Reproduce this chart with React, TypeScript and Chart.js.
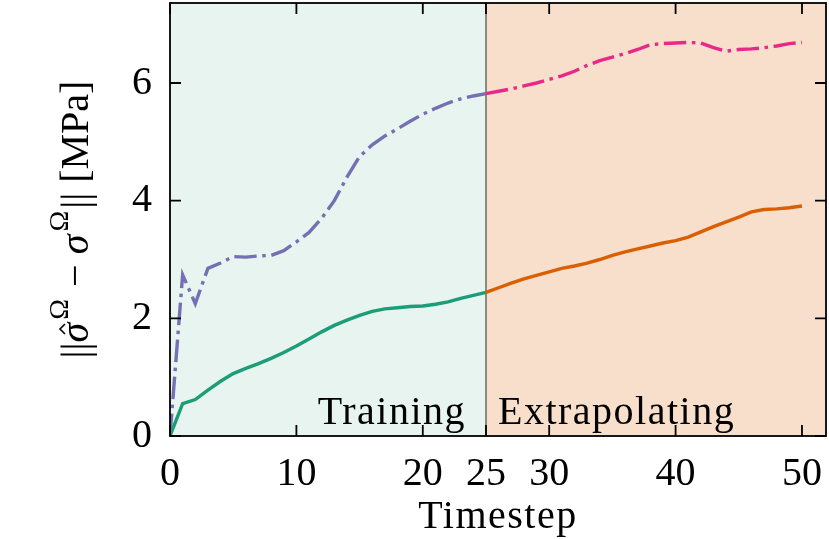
import React, { useEffect, useRef } from "react";
import { Chart, registerables } from "chart.js";

Chart.register(...registerables);

const FONT = '"Liberation Serif", "Times New Roman", serif';

// Timesteps
const trainSteps = [0, 1, 2, 3, 4, 5, 6, 7, 8, 9, 10, 11, 12, 13, 14, 15, 16, 17, 18, 19, 20, 21, 22, 23, 24, 25];
const extrapSteps = [25, 26, 27, 28, 29, 30, 31, 32, 33, 34, 35, 36, 37, 38, 39, 40, 41, 42, 43, 44, 45, 46, 47, 48, 49, 50];

// Training (green solid)
const trainSolid = [0, 0.55, 0.62, 0.78, 0.93, 1.06, 1.15, 1.23, 1.32, 1.42, 1.53, 1.65, 1.77, 1.88, 1.97, 2.05, 2.12, 2.16, 2.18, 2.2, 2.21, 2.24, 2.28, 2.34, 2.39, 2.44];
// Training (purple dash-dot)
const trainDashdot = [0, 2.74, 2.25, 2.85, 2.94, 3.05, 3.04, 3.06, 3.07, 3.15, 3.3, 3.46, 3.7, 4.0, 4.4, 4.75, 4.95, 5.1, 5.22, 5.35, 5.47, 5.57, 5.66, 5.73, 5.78, 5.82];
// Extrapolating (orange solid)
const extrapSolid = [2.44, 2.52, 2.6, 2.67, 2.73, 2.79, 2.85, 2.89, 2.94, 3.0, 3.07, 3.13, 3.18, 3.23, 3.28, 3.32, 3.38, 3.47, 3.56, 3.64, 3.72, 3.81, 3.85, 3.86, 3.88, 3.91];
// Extrapolating (pink dash-dot)
const extrapDashdot = [5.82, 5.86, 5.9, 5.95, 6.0, 6.06, 6.12, 6.2, 6.3, 6.38, 6.44, 6.5, 6.57, 6.65, 6.67, 6.68, 6.69, 6.68, 6.6, 6.54, 6.57, 6.58, 6.6, 6.63, 6.67, 6.69];

const xTickValues = [0, 10, 20, 25, 30, 40, 50];
const yTickValues = [0, 2, 4, 6];
const splitStep = 25;
const regionLabels = ["Training", "Extrapolating"];
const xTitle = "Timestep";

const regionPlugin = {
  id: "regions",
  beforeDatasetsDraw(chart: any) {
    const { ctx, chartArea: a, scales } = chart;
    const xm = scales.x.getPixelForValue(splitStep);
    ctx.save();
    ctx.fillStyle = "rgb(232,244,240)";
    ctx.fillRect(a.left, a.top, xm - a.left, a.bottom - a.top);
    ctx.fillStyle = "rgb(248,223,204)";
    ctx.fillRect(xm, a.top, a.right - xm, a.bottom - a.top);
    ctx.strokeStyle = "#4a4a3a";
    ctx.lineWidth = 1.2;
    ctx.beginPath();
    ctx.moveTo(xm, a.top);
    ctx.lineTo(xm, a.bottom);
    ctx.stroke();
    ctx.font = `40px ${FONT}`;
    ctx.fillStyle = "#000";
    ctx.textBaseline = "alphabetic";
    (ctx as any).letterSpacing = "1.5px";
    ctx.textAlign = "right";
    ctx.fillText(regionLabels[0], xm - 20, a.bottom - 12);
    ctx.textAlign = "left";
    ctx.fillText(regionLabels[1], xm + 12, a.bottom - 12);
    ctx.restore();
  },
  afterDraw(chart: any) {
    const { ctx, chartArea: a, scales } = chart;
    const { x, y } = scales;
    ctx.save();
    ctx.strokeStyle = "#000";
    ctx.lineWidth = 1.8;
    ctx.strokeRect(a.left, a.top, a.right - a.left, a.bottom - a.top);
    const L = 11;
    ctx.beginPath();
    xTickValues.forEach((v) => {
      const px = x.getPixelForValue(v);
      ctx.moveTo(px, a.bottom);
      ctx.lineTo(px, a.bottom - L);
      ctx.moveTo(px, a.top);
      ctx.lineTo(px, a.top + L);
    });
    yTickValues.forEach((v) => {
      const py = y.getPixelForValue(v);
      ctx.moveTo(a.left, py);
      ctx.lineTo(a.left + L, py);
      ctx.moveTo(a.right, py);
      ctx.lineTo(a.right - L, py);
    });
    ctx.stroke();

    // x-axis title
    ctx.save();
    ctx.font = `40px ${FONT}`;
    (ctx as any).letterSpacing = "1.5px";
    ctx.fillStyle = "#000";
    ctx.textAlign = "center";
    ctx.textBaseline = "alphabetic";
    ctx.fillText(xTitle, (a.left + a.right) / 2, 528);
    ctx.restore();

    // y-axis title with superscripts
    const main = `40px ${FONT}`;
    const ital = `italic 40px ${FONT}`;
    const sup = `28px ${FONT}`;
    const parts = [
      { t: "||", f: main, dy: 0, hat: false },
      { t: "\u03c3", f: ital, dy: 0, hat: true },
      { t: "\u03a9", f: sup, dy: -20, hat: false },
      { t: " \u2212 ", f: main, dy: 0, hat: false },
      { t: "\u03c3", f: ital, dy: 0, hat: false },
      { t: "\u03a9", f: sup, dy: -20, hat: false },
      { t: "||", f: main, dy: 0, hat: false },
      { t: " [MPa]", f: main, dy: 0, hat: false },
    ];
    let total = 0;
    const widths = parts.map((p) => {
      ctx.font = p.f;
      const w = ctx.measureText(p.t).width + (p.t === "\u03c3" ? 3 : 0) + (p.t === "\u03a9" ? 2 : 0);
      total += w;
      return w;
    });
    const cy = (a.top + a.bottom) / 2;
    ctx.translate(88, cy);
    ctx.rotate(-Math.PI / 2);
    ctx.fillStyle = "#000";
    ctx.strokeStyle = "#000";
    ctx.textAlign = "left";
    ctx.textBaseline = "alphabetic";
    let cx = -total / 2;
    parts.forEach((p, i) => {
      ctx.font = p.f;
      ctx.fillText(p.t, cx, p.dy);
      if (p.hat) {
        const hx = cx + widths[i] / 2 + 2;
        ctx.lineWidth = 1.6;
        ctx.beginPath();
        ctx.moveTo(hx - 5, -23);
        ctx.lineTo(hx, -28);
        ctx.lineTo(hx + 5, -23);
        ctx.stroke();
      }
      cx += widths[i];
    });
    ctx.restore();
  },
};

export default function App() {
  const ref = useRef<HTMLCanvasElement | null>(null);
  useEffect(() => {
    document.body.style.margin = "0";
    const canvas = ref.current;
    if (!canvas) return;
    const dash = [22.4, 5.6, 3.5, 5.6];
    const lw = 3.4;
    const chart = new Chart(canvas, {
      type: "line",
      data: {
        datasets: [
          {
            data: trainSteps.map((t, i) => ({ x: t, y: trainSolid[i] })),
            borderColor: "#1b9e77",
            borderWidth: lw,
            pointRadius: 0,
            tension: 0,
            fill: false,
          },
          {
            data: trainSteps.map((t, i) => ({ x: t, y: trainDashdot[i] })),
            borderColor: "#7570b3",
            borderWidth: lw,
            borderDash: dash,
            pointRadius: 0,
            tension: 0,
            fill: false,
          },
          {
            data: extrapSteps.map((t, i) => ({ x: t, y: extrapSolid[i] })),
            borderColor: "#d95f02",
            borderWidth: lw,
            pointRadius: 0,
            tension: 0,
            fill: false,
          },
          {
            data: extrapSteps.map((t, i) => ({ x: t, y: extrapDashdot[i] })),
            borderColor: "#e7298a",
            borderWidth: lw,
            borderDash: dash,
            pointRadius: 0,
            tension: 0,
            fill: false,
          },
        ],
      },
      options: {
        responsive: false,
        animation: false,
        layout: { padding: { top: 3, right: 3, left: 0, bottom: 0 } },
        plugins: { legend: { display: false }, tooltip: { enabled: false } },
        scales: {
          x: {
            type: "linear",
            min: 0,
            max: 51.9,
            afterBuildTicks: (s: any) => {
              s.ticks = xTickValues.map((v) => ({ value: v }));
            },
            afterFit: (s: any) => {
              s.height = 103;
              s.paddingLeft = 0;
              s.paddingRight = 0;
            },
            grid: { display: false },
            border: { display: false },
            ticks: {
              font: { family: FONT, size: 40 },
              color: "#000",
              padding: 6,
              maxRotation: 0,
              autoSkip: false,
              callback: (v: any) => String(v),
            },
            title: { display: false },
          },
          y: {
            type: "linear",
            min: 0,
            max: 7.36,
            afterBuildTicks: (s: any) => {
              s.ticks = yTickValues.map((v) => ({ value: v }));
            },
            afterFit: (s: any) => {
              s.width = 170;
              s.paddingTop = 0;
              s.paddingBottom = 0;
            },
            grid: { display: false },
            border: { display: false },
            ticks: {
              font: { family: FONT, size: 40 },
              color: "#000",
              padding: 10,
              callback: (v: any) => String(v),
            },
          },
        },
      },
      plugins: [regionPlugin],
    } as any);
    return () => chart.destroy();
  }, []);
  return <canvas ref={ref} width={829} height={539} style={{ display: "block" }} />;
}
